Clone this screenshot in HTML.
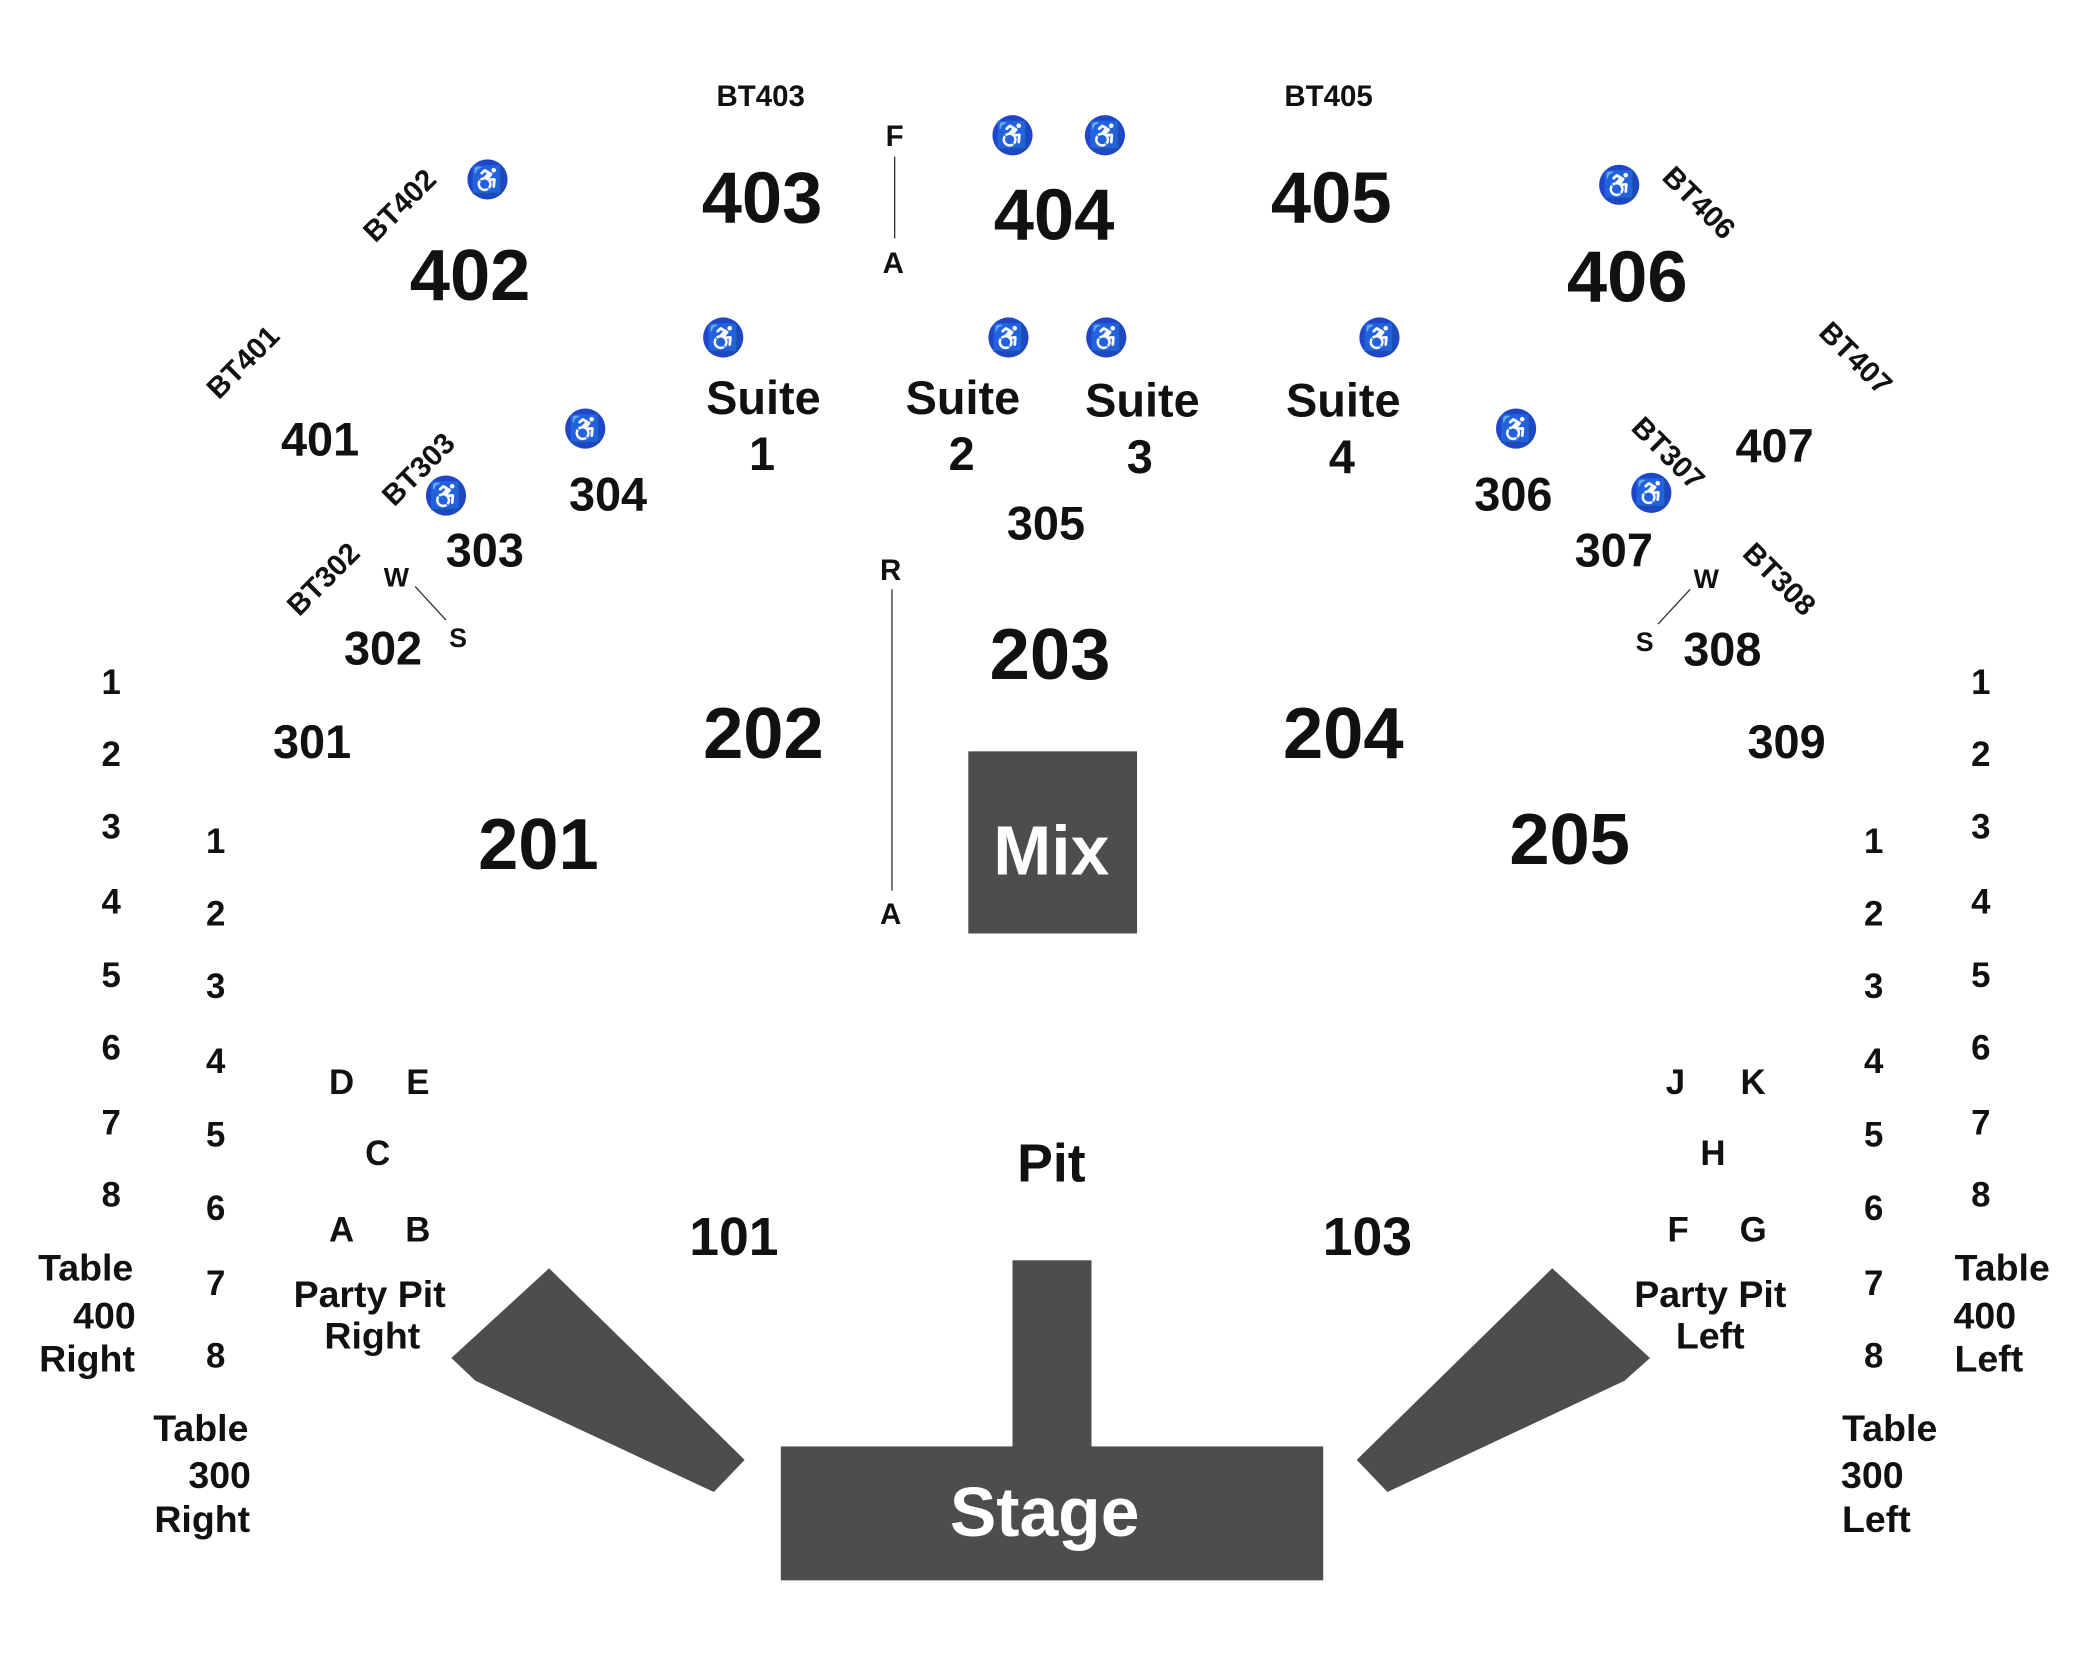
<!DOCTYPE html>
<html><head><meta charset="utf-8"><style>
html,body{margin:0;padding:0;background:#fff;width:2100px;height:1680px;overflow:hidden}
svg text{font-family:"Liberation Sans",Arial,sans-serif;font-weight:bold;fill:#111;text-anchor:middle}
</style></head><body>
<svg width="2100" height="1680" viewBox="0 0 1568 1254.4" preserveAspectRatio="none" xmlns="http://www.w3.org/2000/svg">
<g fill="#4d4d4d">
<polygon points="410,947 556,1090 533,1114 355,1031 337,1014"/>
<polygon points="1159,947 1013,1090 1036,1114 1213,1031 1232,1014"/>
<rect x="756" y="941" width="59" height="145"/>
<rect x="583" y="1080" width="405" height="100"/>
<rect x="723" y="561" width="126" height="136"/>
</g>
<g stroke="#333" stroke-width="1">
<line x1="668" y1="117" x2="668" y2="178"/>
<line x1="666" y1="440" x2="666" y2="665"/>
<line x1="310" y1="438" x2="333" y2="463"/>
<line x1="1262" y1="440" x2="1238" y2="466"/>
</g>
<g font-size="22">
<text x="568" y="79">BT403</text><text x="992" y="79">BT405</text>
<text x="668" y="109">F</text><text x="667" y="204">A</text>
<text x="665" y="433">R</text><text x="665" y="690">A</text>
<text transform="translate(298,153) rotate(-45)" y="8">BT402</text>
<text transform="translate(181,270) rotate(-45)" y="8">BT401</text>
<text transform="translate(312,350) rotate(-45)" y="8">BT303</text>
<text transform="translate(241,432) rotate(-45)" y="8">BT302</text>
<text transform="translate(1269,151) rotate(45)" y="8">BT406</text>
<text transform="translate(1386,267) rotate(45)" y="8">BT407</text>
<text transform="translate(1246,338) rotate(45)" y="8">BT307</text>
<text transform="translate(1329,432) rotate(45)" y="8">BT308</text>
</g>
<g font-size="20">
<text x="296" y="438">W</text><text x="342" y="483">S</text>
<text x="1274" y="439">W</text><text x="1228" y="486">S</text>
</g>
<g font-size="54">
<text x="569" y="166">403</text><text x="787" y="179">404</text><text x="994" y="166">405</text>
<text x="351" y="224">402</text><text x="1215" y="225">406</text>
<text x="784" y="507">203</text><text x="570" y="566">202</text><text x="1003" y="566">204</text>
<text x="402" y="649">201</text><text x="1172" y="645">205</text>
</g>
<g font-size="35">
<text x="239" y="340">401</text><text x="454" y="381">304</text><text x="362" y="423">303</text>
<text x="286" y="496">302</text><text x="233" y="566">301</text><text x="781" y="403">305</text>
<text x="1130" y="381">306</text><text x="1205" y="423">307</text><text x="1286" y="497">308</text>
<text x="1334" y="566">309</text><text x="1325" y="345">407</text>
<text x="570" y="309">Suite</text><text x="569" y="351">1</text>
<text x="719" y="309">Suite</text><text x="718" y="351">2</text>
<text x="853" y="311">Suite</text><text x="851" y="353">3</text>
<text x="1003" y="311">Suite</text><text x="1002" y="353">4</text>
</g>
<g font-size="40">
<text x="785" y="882">Pit</text><text x="548" y="937">101</text><text x="1021" y="937">103</text>
</g>
<g font-size="52" style="fill:#fff">
<text x="785" y="653" style="fill:#fff">Mix</text><text x="780" y="1147" style="fill:#fff">Stage</text>
</g>
<g font-size="26">
<text x="255" y="817">D</text><text x="312" y="817">E</text><text x="282" y="870">C</text>
<text x="255" y="927">A</text><text x="312" y="927">B</text>
<text x="1251" y="817">J</text><text x="1309" y="817">K</text><text x="1279" y="870">H</text>
<text x="1253" y="927">F</text><text x="1309" y="927">G</text>
<text x="83" y="518">1</text><text x="83" y="572">2</text><text x="83" y="626">3</text><text x="83" y="682">4</text>
<text x="83" y="737">5</text><text x="83" y="791">6</text><text x="83" y="847">7</text><text x="83" y="901">8</text>
<text x="1479" y="518">1</text><text x="1479" y="572">2</text><text x="1479" y="626">3</text><text x="1479" y="682">4</text>
<text x="1479" y="737">5</text><text x="1479" y="791">6</text><text x="1479" y="847">7</text><text x="1479" y="901">8</text>
<text x="161" y="637">1</text><text x="161" y="691">2</text><text x="161" y="745">3</text><text x="161" y="801">4</text>
<text x="161" y="856">5</text><text x="161" y="911">6</text><text x="161" y="967">7</text><text x="161" y="1021">8</text>
<text x="1399" y="637">1</text><text x="1399" y="691">2</text><text x="1399" y="745">3</text><text x="1399" y="801">4</text>
<text x="1399" y="856">5</text><text x="1399" y="911">6</text><text x="1399" y="967">7</text><text x="1399" y="1021">8</text>
</g>
<g font-size="28">
<text x="276" y="976">Party Pit</text><text x="278" y="1007">Right</text>
<text x="1277" y="976">Party Pit</text><text x="1277" y="1007">Left</text>
<text x="64" y="956">Table</text><text x="78" y="992">400</text><text x="65" y="1024">Right</text>
<text x="1495" y="956">Table</text><text x="1482" y="992">400</text><text x="1485" y="1024">Left</text>
<text x="150" y="1076">Table</text><text x="164" y="1111">300</text><text x="151" y="1144">Right</text>
<text x="1411" y="1076">Table</text><text x="1398" y="1111">300</text><text x="1401" y="1144">Left</text>
</g>
<g id="wc">
<g fill="#1f45c8">
<circle cx="364" cy="134" r="15"/><circle cx="756" cy="101" r="15"/><circle cx="825" cy="101" r="15"/>
<circle cx="1209" cy="138" r="15"/><circle cx="540" cy="252" r="15"/><circle cx="753" cy="252" r="15"/>
<circle cx="826" cy="252" r="15"/><circle cx="1030" cy="252" r="15"/><circle cx="437" cy="320" r="15"/>
<circle cx="333" cy="370" r="15"/><circle cx="1132" cy="320" r="15"/><circle cx="1233" cy="368" r="15"/>
</g>
<g font-size="20" style="font-family:'DejaVu Sans',sans-serif;font-weight:normal">
<text x="364" y="141" style="fill:#fff">♿</text><text x="756" y="108" style="fill:#fff">♿</text><text x="825" y="108" style="fill:#fff">♿</text>
<text x="1209" y="145" style="fill:#fff">♿</text><text x="540" y="259" style="fill:#fff">♿</text><text x="753" y="259" style="fill:#fff">♿</text>
<text x="826" y="259" style="fill:#fff">♿</text><text x="1030" y="259" style="fill:#fff">♿</text><text x="437" y="327" style="fill:#fff">♿</text>
<text x="333" y="377" style="fill:#fff">♿</text><text x="1132" y="327" style="fill:#fff">♿</text><text x="1233" y="375" style="fill:#fff">♿</text>
</g>
</g>
</svg>
</body></html>
